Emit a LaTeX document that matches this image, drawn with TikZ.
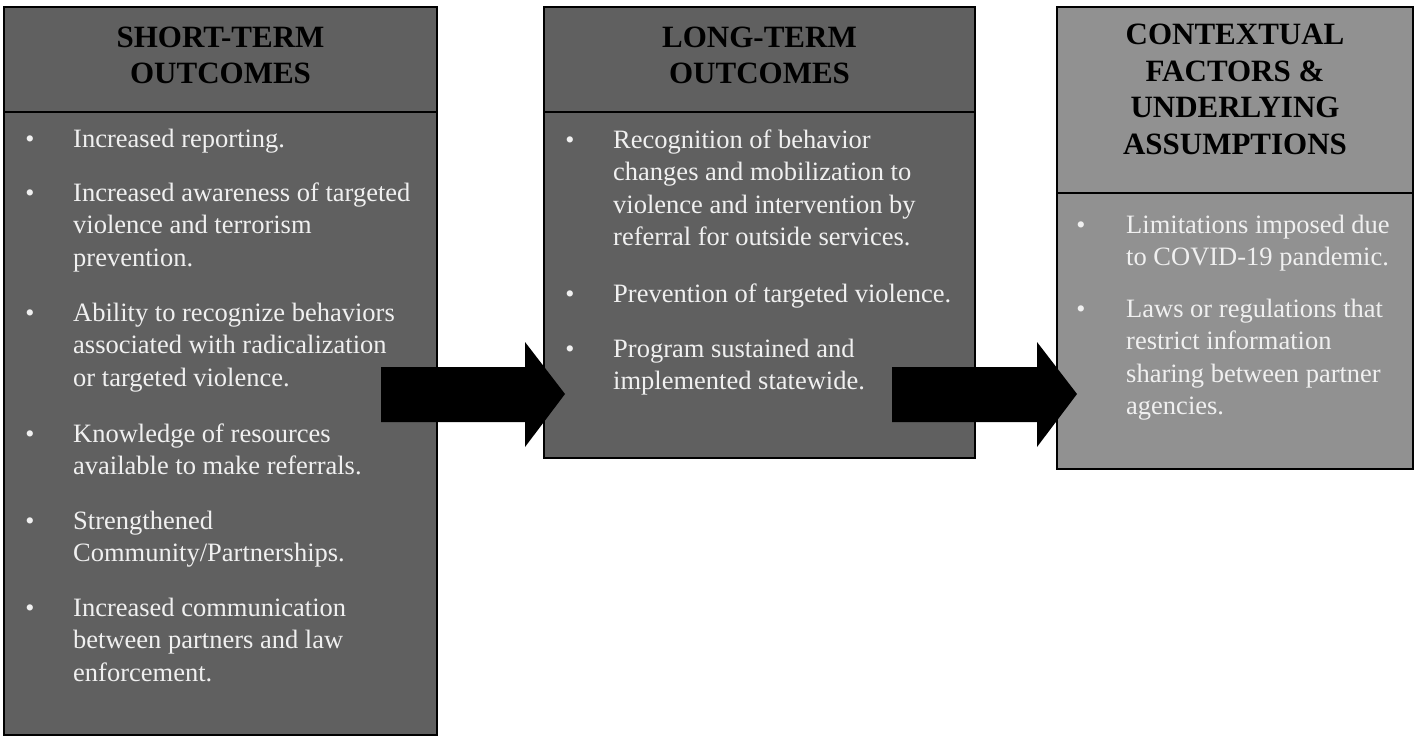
\documentclass[tikz,border=0pt]{standalone}
\usepackage{fontspec}
\setmainfont{Liberation Serif}
\definecolor{darkbox}{RGB}{96,96,96}
\definecolor{lightbox}{RGB}{145,145,145}
\definecolor{bodytext}{RGB}{240,240,240}
\newcommand\leftlines[1]{\vtop{\halign{##\hfil\cr #1\crcr}}}
\newcommand\centerlines[1]{\vtop{\halign{\hfil##\hfil\cr #1\crcr}}}
\tikzset{
  boxframe/.style={draw=black, line width=2pt},
  divider/.style={draw=black, line width=2pt},
  headtext/.style={anchor=base, inner sep=0pt, text=black,
    font=\fontsize{31}{36.5}\selectfont\bfseries},
  itemtext/.style={anchor=base west, inner sep=0pt, text=bodytext,
    font=\fontsize{26.5}{32.5}\selectfont},
  bul/.style={anchor=base, inner sep=0pt, text=bodytext,
    font=\fontsize{26}{30}\selectfont},
  blockarrow/.style={fill=black, draw=none}
}
\begin{document}
\begin{tikzpicture}[x=1pt, y=-1pt]
\useasboundingbox (0,0) rectangle (1417,736);

% ---------- Box 1 ----------
\filldraw[boxframe, fill=darkbox] (4,7) rectangle (437,735);
\draw[divider] (4,112) -- (437,112);
\node[headtext] (h1) at (220.5,47) {\centerlines{SHORT-TERM\cr OUTCOMES}};

\node[bul] (b11) at (30,147.5) {•};
\node[itemtext] (t11) at (73,147) {\leftlines{Increased reporting.}};
\node[bul] (b12) at (30,201.5) {•};
\node[itemtext] (t12) at (73,201) {\leftlines{Increased awareness of targeted\cr violence and terrorism\cr prevention.}};
\node[bul] (b13) at (30,321.5) {•};
\node[itemtext] (t13) at (73,321) {\leftlines{Ability to recognize behaviors\cr associated with radicalization\cr or targeted violence.}};
\node[bul] (b14) at (30,442.5) {•};
\node[itemtext] (t14) at (73,442) {\leftlines{Knowledge of resources\cr available to make referrals.}};
\node[bul] (b15) at (30,529.5) {•};
\node[itemtext] (t15) at (73,529) {\leftlines{Strengthened\cr Community/Partnerships.}};
\node[bul] (b16) at (30,616.5) {•};
\node[itemtext] (t16) at (73,616) {\leftlines{Increased communication\cr between partners and law\cr enforcement.}};

% ---------- Box 2 ----------
\filldraw[boxframe, fill=darkbox] (544,7) rectangle (975,458);
\draw[divider] (544,112) -- (975,112);
\node[headtext] (h2) at (759.5,47) {\centerlines{LONG-TERM\cr OUTCOMES}};

\node[bul] (b21) at (570,148.5) {•};
\node[itemtext] (t21) at (613,148) {\leftlines{Recognition of behavior\cr changes and mobilization to\cr violence and intervention by\cr referral for outside services.}};
\node[bul] (b22) at (570,302.5) {•};
\node[itemtext] (t22) at (613,302) {\leftlines{Prevention of targeted violence.}};
\node[bul] (b23) at (570,357.5) {•};
\node[itemtext] (t23) at (613,357) {\leftlines{Program sustained and\cr implemented statewide.}};

% ---------- Box 3 ----------
\filldraw[boxframe, fill=lightbox] (1057,7) rectangle (1413,469);
\draw[divider] (1057,193) -- (1413,193);
\node[headtext] (h3) at (1235,45) {\centerlines{CONTEXTUAL\cr FACTORS \&\cr UNDERLYING\cr ASSUMPTIONS}};

\node[bul] (b31) at (1081,233.5) {•};
\node[itemtext] (t31) at (1126,233) {\leftlines{Limitations imposed due\cr to COVID-19 pandemic.}};
\node[bul] (b32) at (1081,317.5) {•};
\node[itemtext] (t32) at (1126,317) {\leftlines{Laws or regulations that\cr restrict information\cr sharing between partner\cr agencies.}};

% ---------- Block arrows ----------
\coordinate (a1s) at (381,394);
\coordinate (a1e) at (565,394);
\fill[blockarrow] (a1s) ++(0,-27) -- ++(144,0) -- ++(0,-25) -- (a1e)
  -- ++(-40,53) -- ++(0,-25) -- ++(-144,0) -- cycle;

\coordinate (a2s) at (892,394);
\coordinate (a2e) at (1077,394);
\fill[blockarrow] (a2s) ++(0,-27) -- ++(145,0) -- ++(0,-25) -- (a2e)
  -- ++(-40,53) -- ++(0,-25) -- ++(-145,0) -- cycle;
\end{tikzpicture}
\end{document}
